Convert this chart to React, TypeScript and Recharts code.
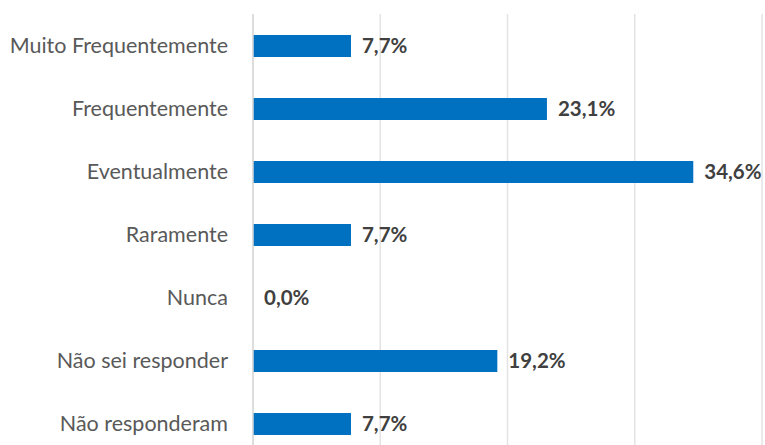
import { BarChart, Bar, XAxis, YAxis, CartesianGrid, LabelList, Cell } from 'recharts';

const categories = [
  'Muito Frequentemente',
  'Frequentemente',
  'Eventualmente',
  'Raramente',
  'Nunca',
  'Não sei responder',
  'Não responderam',
];
const percentages = [7.7, 23.1, 34.6, 7.7, 0.0, 19.2, 7.7];
const xTicks = [0, 10, 20, 30, 40];

const data = categories.map((name, i) => ({ name, value: percentages[i] }));

const fmt = (v: number) => `${v.toFixed(1).replace('.', ',')}%`;

// custom label so the 0,0% entry is drawn too
const renderValue = (props: any) => {
  const { x, y, width, height, value } = props;
  const w = Number(value) > 0 ? Number(width || 0) : 0;
  return (
    <text
      x={Number(x) + w + 11}
      y={Number(y) + Number(height) / 2}
      dy="0.36em"
      fontSize={20.5}
      fontWeight={700}
      fill="#404040"
      fontFamily="Lato"
    >
      {fmt(Number(value))}
    </text>
  );
};

export default function App() {
  return (
    <div style={{ position: 'fixed', top: 0, left: 0, width: 765, height: 445, overflow: 'hidden', background: '#fff' }}>
      <BarChart
        width={765}
        height={470}
        data={data}
        layout="vertical"
        barCategoryGap="65%"
        margin={{ top: 14, right: 3, left: 0, bottom: 15 }}
      >
        <CartesianGrid horizontal={false} stroke="#e3e3e3" strokeWidth={1.5} />
        <XAxis type="number" domain={[0, 40]} ticks={xTicks} hide />
        <YAxis
          type="category"
          dataKey="name"
          width={253}
          axisLine={{ stroke: '#d9d9d9', strokeWidth: 1.5 }}
          tickLine={false}
          tickMargin={19}
          tick={{ fontSize: 21.5, fill: '#595959', fontFamily: 'Lato' }}
        />
        <Bar dataKey="value" fill="#0070c0" barSize={22} minPointSize={1} isAnimationActive={false}>
          {data.map((d, i) => (
            <Cell key={i} fill={d.value > 0 ? '#0070c0' : 'transparent'} />
          ))}
          <LabelList dataKey="value" content={renderValue} />
        </Bar>
      </BarChart>
    </div>
  );
}
